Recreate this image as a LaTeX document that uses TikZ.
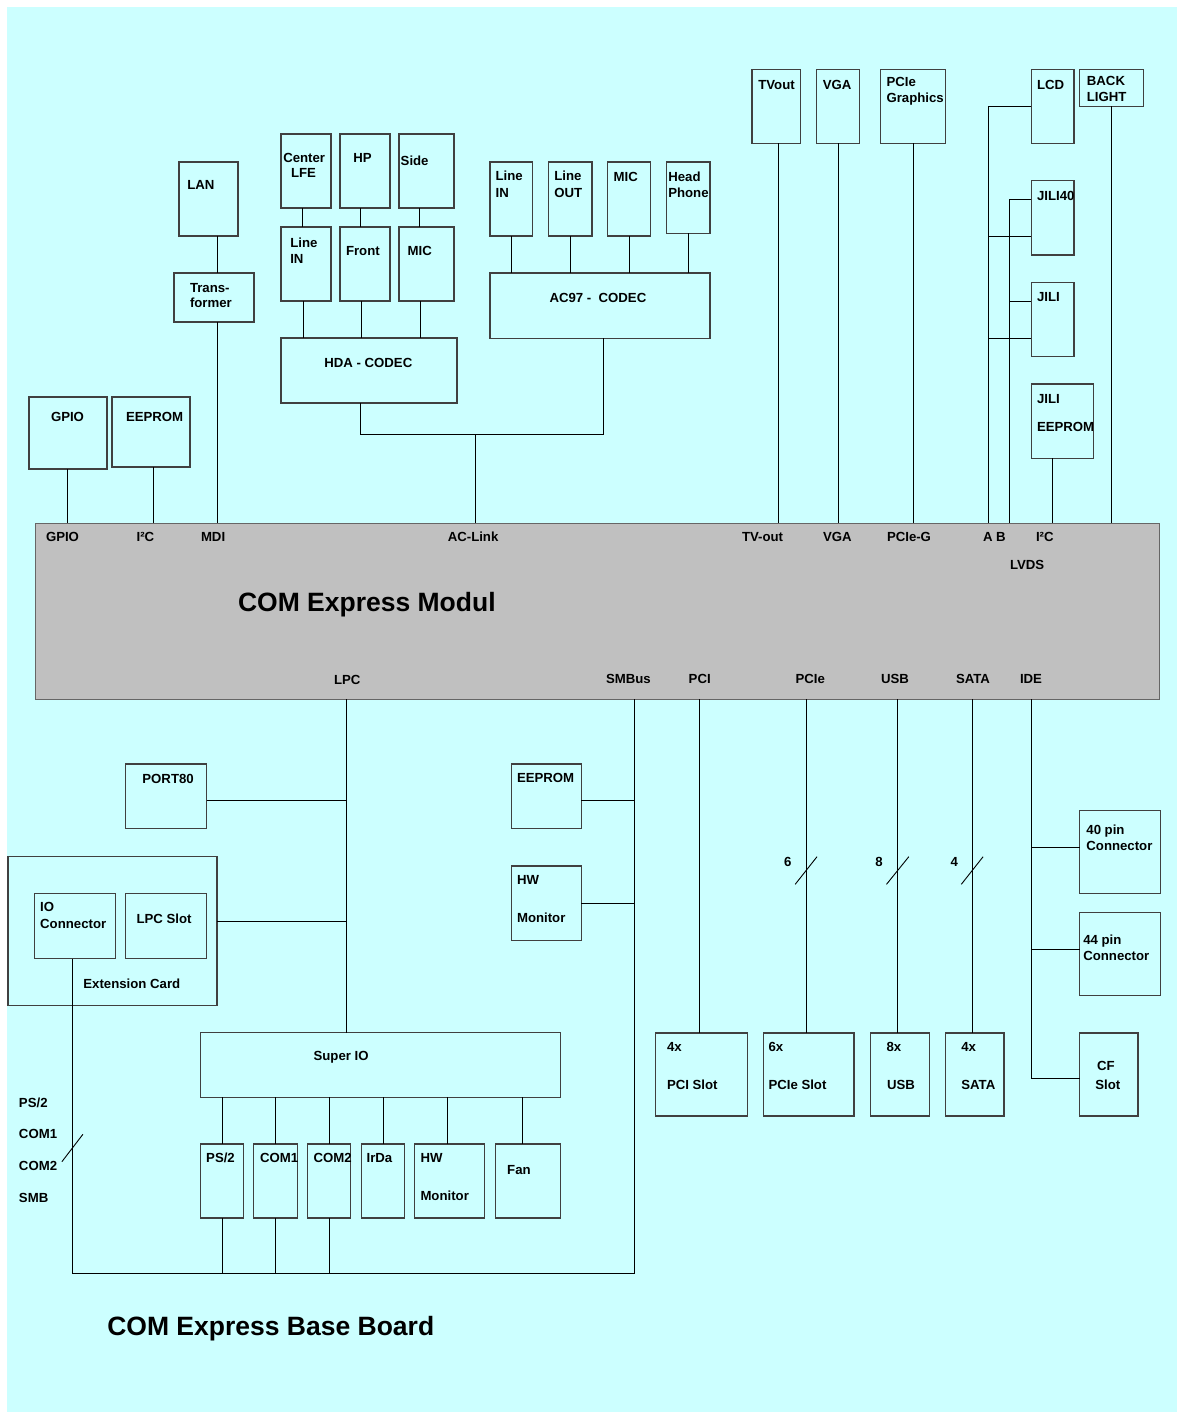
\documentclass[tikz,border=0pt]{standalone}
\usepackage{fontspec}
\setmainfont{Liberation Sans}
\definecolor{bgcyan}{HTML}{CCFFFF}
\definecolor{modgray}{HTML}{C0C0C0}
\tikzset{
  box/.style={draw=black!75,line width=1.1pt,inner sep=0pt,outer sep=0pt,rectangle},
  wire/.style={draw=black,line width=0.9pt},
  lbl/.style={anchor=base west,inner sep=0pt,outer sep=0pt,font=\fontsize{13.2}{15}\selectfont\bfseries},
  big/.style={anchor=base west,inner sep=0pt,outer sep=0pt,font=\fontsize{26.5}{30}\selectfont\bfseries},
}
\newcommand\bx[5]{\node[box,minimum width={(#4)-(#2)},minimum height={(#5)-(#3)}] (#1) at ({((#2)+(#4))/2},{((#3)+(#5))/2}) {};}
\newcommand\tx[4]{\node[lbl] (#1) at (#2,#3) {#4};}
\begin{document}
\begin{tikzpicture}[x=1pt,y=-1pt]
\useasboundingbox (0,0) rectangle (1178,1414);
\fill[white] (0,0) rectangle (1178,1414);
\fill[bgcyan] (7,7) rectangle (1177,1412);
% module
\node[draw=black!60,line width=0.8pt,fill=modgray,inner sep=0pt,outer sep=0pt,minimum width=1124.7,minimum height=176] (mod) at ({(35+1159.7)/2},{(523.3+699.3)/2}) {};
% boxes top
\bx{lan}{179}{162}{238}{236}
\bx{trans}{174}{273}{254}{322}
\bx{clfe}{281}{134}{331}{208}
\bx{hp}{340}{134}{390}{208}
\bx{side}{399}{134}{454}{208}
\bx{linein}{281}{227}{331}{301}
\bx{front}{340}{227}{390}{301}
\bx{mic}{399}{227}{454}{301}
\bx{hda}{281}{338}{457}{403}
\bx{gpio}{29}{397}{107}{469}
\bx{eeprom}{112}{397}{190}{467}
\bx{acin}{490}{162}{532.5}{236}
\bx{acout}{548.6}{162}{592}{236}
\bx{acmic}{607.8}{162}{650.5}{236}
\bx{achp}{666.5}{162}{710}{233.3}
\bx{ac97}{490}{273}{710}{338.3}
\bx{tvout}{752}{69.3}{800.6}{143.3}
\bx{vga}{816.6}{69.3}{859.8}{143.3}
\bx{pcieg}{880.7}{69.3}{945.7}{143.3}
\bx{lcd}{1031.2}{69.3}{1074}{143.3}
\bx{bl}{1079.7}{69.3}{1143.4}{106.3}
\bx{jili40}{1031.2}{180.3}{1074}{255}
\bx{jili}{1031.2}{282.3}{1074}{356.3}
\bx{jee}{1031.2}{384}{1093.5}{458.3}
% boxes bottom
\bx{port80}{125.5}{764}{206.7}{828.7}
\bx{ext}{8}{856.7}{217}{1005.3}
\bx{ioc}{34.8}{893.7}{115.6}{958.7}
\bx{lpcs}{125.5}{893.7}{206.7}{958.7}
\bx{ee2}{511.3}{764}{581.3}{828.7}
\bx{hwm}{511.3}{866}{581.3}{940.3}
\bx{sio}{200.3}{1032.7}{560.2}{1097.3}
\bx{ps2}{200.3}{1144}{243.3}{1218}
\bx{com1}{253.8}{1144}{297.1}{1218}
\bx{com2}{307.2}{1144}{350.6}{1218}
\bx{irda}{361.1}{1144}{404.5}{1218}
\bx{hwm2}{414.6}{1144}{484.4}{1218}
\bx{fan}{495.4}{1144}{560.2}{1218}
\bx{pcis}{655.9}{1033}{747.1}{1116}
\bx{pcies}{763.2}{1033}{854}{1116}
\bx{usbs}{870.5}{1033}{929.7}{1116}
\bx{satas}{945.7}{1033}{1004}{1116}
\bx{p40}{1079.7}{810.3}{1160.8}{893.7}
\bx{p44}{1079.7}{912.3}{1160.8}{995.3}
\bx{cf}{1079.7}{1033}{1138}{1116}
% connectors top
\draw[wire] (217,0 |- lan.south) -- (217,0 |- trans.north);
\draw[wire] (217,0 |- trans.south) -- (217,0 |- mod.north);
\draw[wire] (67,0 |- gpio.south) -- (67,0 |- mod.north);
\draw[wire] (153,0 |- eeprom.south) -- (153,0 |- mod.north);
\draw[wire] (302,0 |- clfe.south) -- (302,0 |- linein.north);
\draw[wire] (360,0 |- hp.south) -- (360,0 |- front.north);
\draw[wire] (419,0 |- side.south) -- (419,0 |- mic.north);
\draw[wire] (303,0 |- linein.south) -- (303,0 |- hda.north);
\draw[wire] (361,0 |- front.south) -- (361,0 |- hda.north);
\draw[wire] (420,0 |- mic.south) -- (420,0 |- hda.north);
\coordinate (acj) at (475.3,434.3);
\draw[wire] (360,0 |- hda.south) |- (acj) -| (603.3,0 |- ac97.south);
\draw[wire] (acj) -- (acj |- mod.north);
\draw[wire] (511.6,0 |- acin.south) -- (511.6,0 |- ac97.north);
\draw[wire] (570.4,0 |- acout.south) -- (570.4,0 |- ac97.north);
\draw[wire] (629.6,0 |- acmic.south) -- (629.6,0 |- ac97.north);
\draw[wire] (688.4,0 |- achp.south) -- (688.4,0 |- ac97.north);
\draw[wire] (778.7,0 |- tvout.south) -- (778.7,0 |- mod.north);
\draw[wire] (838.5,0 |- vga.south) -- (838.5,0 |- mod.north);
\draw[wire] (913.5,0 |- pcieg.south) -- (913.5,0 |- mod.north);
\draw[wire] (lcd.west |- 0,106.3) -| (988,0 |- mod.north);
\draw[wire] (988,236) -- (988,236 -| jili40.west);
\draw[wire] (988,338.3) -- (988,338.3 -| jili.west);
\draw[wire] (jili40.west |- 0,199.3) -| (1009.6,0 |- mod.north);
\draw[wire] (1009.6,301) -- (1009.6,301 -| jili.west);
\draw[wire] (1052.5,0 |- jee.south) -- (1052.5,0 |- mod.north);
\draw[wire] (1111.3,0 |- bl.south) -- (1111.3,0 |- mod.north);
% connectors bottom
\draw[wire] (346,0 |- mod.south) -- (346,0 |- sio.north);
\draw[wire] (port80.east |- 0,800.7) -- (346,800.7);
\draw[wire] (ext.east |- 0,921.3) -- (346,921.3);
\coordinate (busr) at (634.6,1273.3);
\draw[wire] (634.6,0 |- mod.south) -- (busr);
\draw[wire] (ee2.east |- 0,800.7) -- (634.6,800.7);
\draw[wire] (hwm.east |- 0,903) -- (634.6,903);
\draw[wire] (72.3,0 |- ioc.south) |- (busr);
\foreach \xx/\nn in {222.2/ps2,275.7/com1,329.5/com2}{
  \draw[wire] (\xx,0 |- \nn.south) -- (\xx,1273.3);
}
\foreach \xx/\nn in {222.2/ps2,275.7/com1,329.5/com2,383/irda,447.4/hwm2,522.3/fan}{
  \draw[wire] (\xx,0 |- sio.south) -- (\xx,0 |- \nn.north);
}
\draw[wire] (699.4,0 |- mod.south) -- (699.4,0 |- pcis.north);
\draw[wire] (806,0 |- mod.south) -- (806,0 |- pcies.north);
\draw[wire] (897.3,0 |- mod.south) -- (897.3,0 |- usbs.north);
\draw[wire] (972,0 |- mod.south) -- (972,0 |- satas.north);
\draw[wire] (1031.3,0 |- mod.south) |- (cf.west |- 0,1078.7);
\draw[wire] (1031.3,847.3) -- (1031.3,847.3 -| p40.west);
\draw[wire] (1031.3,949.3) -- (1031.3,949.3 -| p44.west);
% slashes
\draw[wire] (795.2,884.3) -- (817,856.7);
\draw[wire] (886.5,884.3) -- (908.8,856.7);
\draw[wire] (961.3,884.3) -- (983.1,856.7);
\draw[wire] (61.9,1161.7) -- (82.9,1134.3);
% labels top
\tx{t1}{187.3}{189}{LAN}
\tx{t2}{190}{292}{Trans-}
\tx{t3}{190}{307.3}{former}
\tx{t4}{283.3}{162.3}{Center}
\tx{t5}{291}{177.7}{LFE}
\tx{t6}{353.3}{162}{HP}
\tx{t7}{400.7}{165.3}{Side}
\tx{t8}{290.3}{247.3}{Line}
\tx{t9}{290.3}{263}{IN}
\tx{t10}{346}{255}{Front}
\tx{t11}{407.7}{255}{MIC}
\tx{t12}{324.3}{367}{HDA - CODEC}
\tx{t13}{51}{421.7}{GPIO}
\tx{t14}{126}{421.7}{EEPROM}
\tx{t15}{495.6}{180}{Line}
\tx{t16}{495.6}{197.3}{IN}
\tx{t17}{554.4}{180}{Line}
\tx{t18}{554.4}{197.3}{OUT}
\tx{t19}{613.6}{181}{MIC}
\tx{t20}{668.3}{181}{Head}
\tx{t21}{668.3}{197.3}{Phone}
\tx{t22}{549.5}{302.3}{AC97 -\ \ CODEC}
\tx{t23}{758.3}{89}{TVout}
\tx{t24}{822.8}{89}{VGA}
\tx{t25}{886.5}{86.7}{PCIe}
\tx{t26}{886.5}{102.7}{Graphics}
\tx{t27}{1037}{89}{LCD}
\tx{t28}{1086.9}{85}{BACK}
\tx{t29}{1086.9}{101}{LIGHT}
\tx{t30}{1037}{200}{JILI40}
\tx{t31}{1037}{301.7}{JILI}
\tx{t32}{1037}{403.3}{JILI}
\tx{t33}{1037}{431.7}{EEPROM}
% module labels
\tx{m1}{46}{541}{GPIO}
\tx{m2}{136.6}{541}{I²C}
\tx{m3}{201}{541}{MDI}
\tx{m4}{447.8}{541}{AC-Link}
\tx{m5}{742}{541}{TV-out}
\tx{m6}{823}{541}{VGA}
\tx{m7}{887}{541}{PCIe-G}
\tx{m8}{983}{541}{A B}
\tx{m9}{1036}{541}{I²C}
\tx{m10}{1010}{569}{LVDS}
\node[big] (modtitle) at (238,611) {COM Express Modul};
\tx{m11}{334}{684}{LPC}
\tx{m12}{606}{683}{SMBus}
\tx{m13}{688.7}{683}{PCI}
\tx{m14}{795.5}{683}{PCIe}
\tx{m15}{881}{683}{USB}
\tx{m16}{956}{683}{SATA}
\tx{m17}{1020}{683}{IDE}
% labels bottom
\tx{b1}{142.4}{783.3}{PORT80}
\tx{b2}{40.2}{911.7}{IO}
\tx{b3}{40.2}{928.3}{Connector}
\tx{b4}{136.6}{923}{LPC Slot}
\tx{b5}{83.4}{988.3}{Extension Card}
\tx{b6}{517}{782.7}{EEPROM}
\tx{b7}{517}{884.7}{HW}
\tx{b8}{517}{922}{Monitor}
\tx{b9}{784}{866.7}{6}
\tx{b10}{875.4}{866.7}{8}
\tx{b11}{950.6}{866.7}{4}
\tx{b12}{1086.4}{834}{40 pin}
\tx{b13}{1086.4}{850}{Connector}
\tx{b14}{1083.3}{944}{44 pin}
\tx{b15}{1083.3}{960}{Connector}
\tx{b16}{667}{1051.7}{4x}
\tx{b17}{667}{1089}{PCI Slot}
\tx{b18}{768.5}{1051.7}{6x}
\tx{b19}{768.5}{1089}{PCIe Slot}
\tx{b20}{886.5}{1051.7}{8x}
\tx{b21}{887}{1089}{USB}
\tx{b22}{961.3}{1051.7}{4x}
\tx{b23}{961.3}{1089}{SATA}
\tx{b24}{1097}{1070}{CF}
\tx{b25}{1095.3}{1089}{Slot}
\tx{b26}{313.6}{1060.7}{Super IO}
\tx{b27}{206.2}{1162.7}{PS/2}
\tx{b28}{260}{1162.7}{COM1}
\tx{b29}{313.6}{1162.7}{COM2}
\tx{b30}{366.6}{1162.7}{IrDa}
\tx{b31}{420.5}{1162.7}{HW}
\tx{b32}{420.5}{1200}{Monitor}
\tx{b33}{507.2}{1174}{Fan}
\tx{b34}{19}{1107.3}{PS/2}
\tx{b35}{19}{1138.3}{COM1}
\tx{b36}{19}{1170}{COM2}
\tx{b37}{19}{1202.3}{SMB}
\node[big] (basetitle) at (107.3,1335) {COM Express Base Board};
\end{tikzpicture}
\end{document}
